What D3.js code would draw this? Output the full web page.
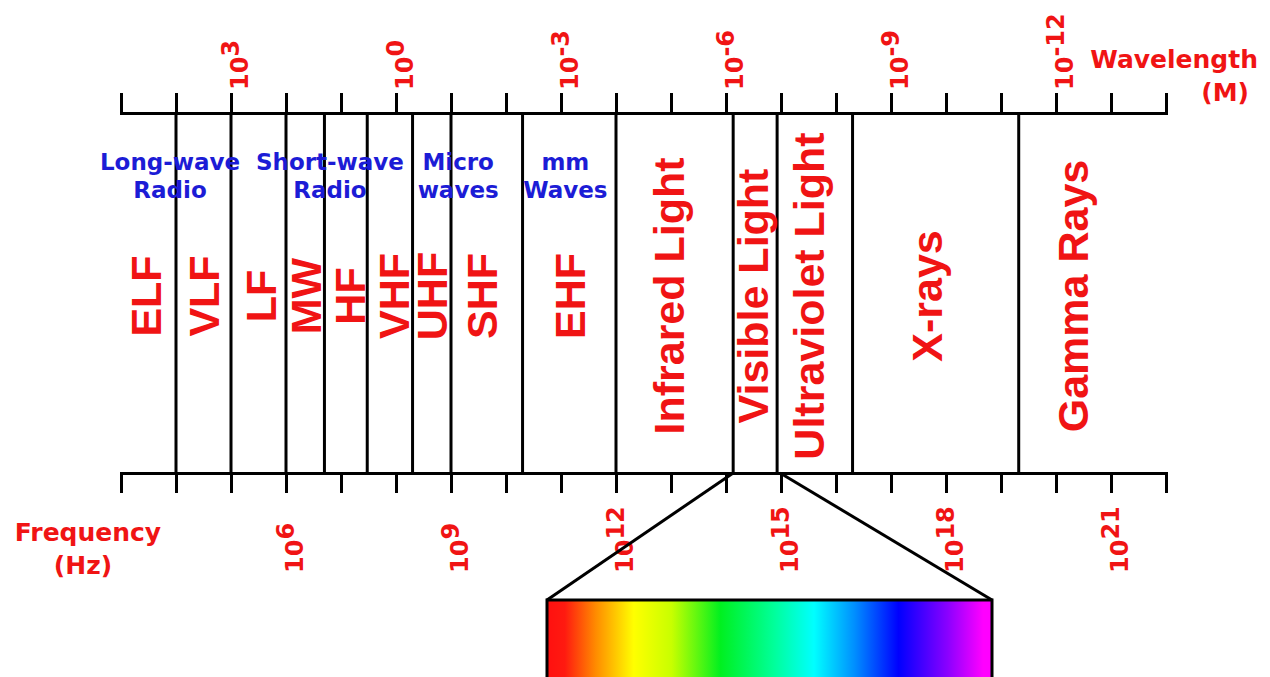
<!DOCTYPE html>
<html>
<head>
<meta charset="utf-8">
<title>Electromagnetic Spectrum</title>
<script src="https://d3js.org/d3.v7.min.js"></script>
<style>
  body { margin: 0; background: #fff; }
  svg { display: block; }
</style>
</head>
<body>
<div id="chart"></div>
<script>
// one tick per decade on both axes
var freqTicks = [1e3, 1e4, 1e5, 1e6, 1e7, 1e8, 1e9, 1e10, 1e11, 1e12, 1e13, 1e14, 1e15, 1e16, 1e17, 1e18, 1e19, 1e20, 1e21, 1e22];
var waveTicks = [1e5, 1e4, 1e3, 1e2, 1e1, 1e0, 1e-1, 1e-2, 1e-3, 1e-4, 1e-5, 1e-6, 1e-7, 1e-8, 1e-9, 1e-10, 1e-11, 1e-12, 1e-13, 1e-14];
var freqLabelExp = [6, 9, 12, 15, 18, 21];
var waveLabelExp = [3, 0, -3, -6, -9, -12];

// band boundaries (Hz) and band names
var bandEdges = [1e4, 1e5, 1e6, 5e6, 3e7, 2e8, 1e9, 2e10, 1e12, 1.35e14, 8.5e14, 2e16, 2.1e19];
var bandNames = ["ELF", "VLF", "LF", "MW", "HF", "VHF", "UHF", "SHF", "EHF",
                 "Infrared Light", "Visible Light", "Ultraviolet Light", "X-rays", "Gamma Rays"];
var bandLabelFreq = [2.8e3, 3.1e4, 3.5e5, 2.3e6, 1.4e7, 9.1e7, 4.5e8, 3.6e9, 1.4e11,
                     8.9e12, 3e14, 3.2e15, 4.4e17, 2e20];

// blue group names
var groupLines = [["Long-wave", "Radio"], ["Short-wave", "Radio"], ["Micro", "waves"], ["mm", "Waves"]];
var groupFreq = [7.8e3, 6.3e6, 1.35e9, 1.2e11];

// visible light gradient
var spectrumStops = [0, 0.04, 0.11, 0.195, 0.28, 0.39, 0.51, 0.6, 0.69, 0.79, 0.9, 0.98, 1];
var spectrumColors = ["#ff1010", "#ff1a10", "#ff8c00", "#ffff00", "#c8ff00", "#00f020", "#00ff9a",
                      "#00ffff", "#0090ff", "#0000ff", "#8a00ff", "#ff00ff", "#ff00ff"];

var W = 1270, H = 677;
var topY = 113, botY = 473;
var red = "#f01414", blue = "#1c1cd6";
var boldSans = "'DejaVu Sans', Verdana, sans-serif";
var arialBold = "'Liberation Sans', Arial, Helvetica, sans-serif";

var svg = d3.select("#chart").append("svg")
  .attr("width", W)
  .attr("height", H)
  .style("background", "#fff");

var x = d3.scaleLog().domain([1e3, 1e22]).range([121, 1166]);
var xw = d3.scaleLog().domain([1e5, 1e-14]).range([121, 1166]);

// top (wavelength) axis
var gTop = svg.append("g")
  .attr("transform", "translate(0," + topY + ")")
  .call(d3.axisTop(xw).tickValues(waveTicks).tickSize(20).tickSizeOuter(0).tickFormat(""));

// bottom (frequency) axis
var gBot = svg.append("g")
  .attr("transform", "translate(0," + botY + ")")
  .call(d3.axisBottom(x).tickValues(freqTicks).tickSize(20).tickSizeOuter(0).tickFormat(""));

[gTop, gBot].forEach(function(g) {
  g.select(".domain").attr("stroke", "#000").attr("stroke-width", 3).attr("stroke-linecap", "square");
  g.selectAll(".tick line").attr("stroke", "#000").attr("stroke-width", 3);
});

// band dividers
svg.selectAll(".divider")
  .data(bandEdges)
  .enter()
  .append("line")
    .attr("class", "divider")
    .attr("x1", function(d) { return x(d); })
    .attr("x2", function(d) { return x(d); })
    .attr("y1", topY)
    .attr("y2", botY)
    .attr("stroke", "#000")
    .attr("stroke-width", 3);

// band labels
svg.selectAll(".band")
  .data(bandNames)
  .enter()
  .append("text")
    .attr("class", "band")
    .attr("transform", function(d, i) { return "translate(" + x(bandLabelFreq[i]) + ",296) rotate(-90)"; })
    .attr("dy", "0.36em")
    .attr("text-anchor", "middle")
    .style("font-family", arialBold)
    .style("font-weight", "bold")
    .style("font-size", "43px")
    .style("fill", red)
    .text(function(d) { return d; });

// group labels
groupLines.forEach(function(lines, i) {
  var t = svg.append("text")
    .attr("text-anchor", "middle")
    .style("font-family", boldSans)
    .style("font-weight", "bold")
    .style("font-size", "23px")
    .style("fill", blue);
  lines.forEach(function(s, j) {
    t.append("tspan")
      .attr("x", x(groupFreq[i]))
      .attr("y", 170 + j * 28)
      .text(s);
  });
});

// tick labels, 10 with exponent
function powerLabel(sel, scale, baseY) {
  var t = sel.append("text")
    .attr("transform", function(d) { return "translate(" + (scale(Math.pow(10, d)) + 17) + "," + baseY + ") rotate(-90)"; })
    .style("font-family", boldSans)
    .style("font-weight", "bold")
    .style("font-size", "24px")
    .style("fill", red)
    .text("10");
  t.append("tspan")
    .attr("dy", -9)
    .text(function(d) { return d; });
}

powerLabel(svg.selectAll(".wl").data(waveLabelExp).enter(), xw, 90);
powerLabel(svg.selectAll(".fl").data(freqLabelExp).enter(), x, 573);

// axis titles
function title(lines, xs, ys, anchor) {
  var t = svg.append("text")
    .attr("text-anchor", anchor)
    .style("font-family", boldSans)
    .style("font-weight", "bold")
    .style("font-size", "25px")
    .style("fill", red);
  lines.forEach(function(s, j) {
    t.append("tspan").attr("x", xs[j]).attr("y", ys[j]).text(s);
  });
}
title(["Wavelength", "(M)"], [1258, 1249], [68, 101], "end");
title(["Frequency", "(Hz)"], [88, 83], [541, 574], "middle");

// visible light zoom
var grad = svg.append("defs").append("linearGradient")
  .attr("id", "spectrum")
  .attr("x1", "0%").attr("x2", "100%").attr("y1", "0%").attr("y2", "0%");
grad.selectAll("stop")
  .data(spectrumStops)
  .enter()
  .append("stop")
    .attr("offset", function(d) { return d; })
    .attr("stop-color", function(d, i) { return spectrumColors[i]; });

var boxL = 547, boxR = 992, boxT = 600;
svg.append("line")
  .attr("x1", x(bandEdges[9])).attr("y1", botY)
  .attr("x2", boxL).attr("y2", boxT)
  .attr("stroke", "#000").attr("stroke-width", 3);
svg.append("line")
  .attr("x1", x(bandEdges[10]) + 3).attr("y1", botY)
  .attr("x2", boxR).attr("y2", boxT)
  .attr("stroke", "#000").attr("stroke-width", 3);
svg.append("rect")
  .attr("x", boxL)
  .attr("y", boxT)
  .attr("width", boxR - boxL)
  .attr("height", 90)
  .attr("fill", "url(#spectrum)")
  .attr("stroke", "#000")
  .attr("stroke-width", 3);
</script>
</body>
</html>
